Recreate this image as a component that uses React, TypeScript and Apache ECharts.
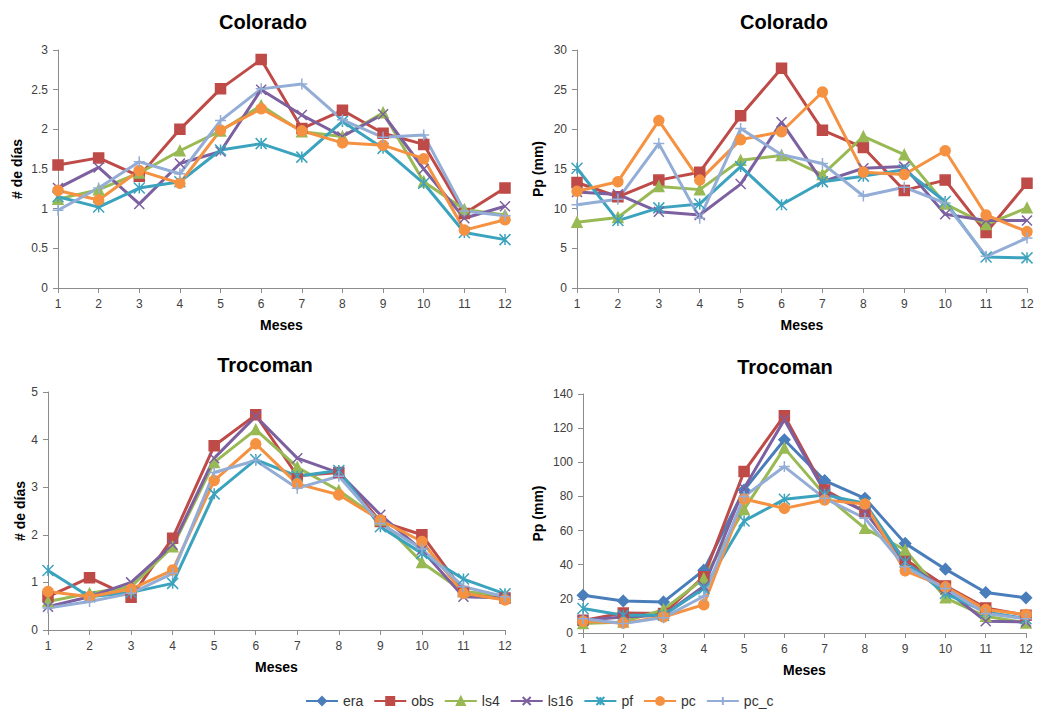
import React, { useEffect, useRef } from "react";
import * as echarts from "echarts";

const months = ["1", "2", "3", "4", "5", "6", "7", "8", "9", "10", "11", "12"];

// Colorado – # de días
const colDiasObs = [1.55, 1.64, 1.41, 2.0, 2.51, 2.88, 2.01, 2.24, 1.95, 1.81, 0.94, 1.26];
const colDiasLs4 = [1.12, 1.24, 1.45, 1.73, 1.98, 2.3, 1.97, 1.91, 2.21, 1.34, 0.99, 0.92];
const colDiasLs16 = [1.26, 1.52, 1.06, 1.57, 1.72, 2.5, 2.18, 1.91, 2.19, 1.5, 0.88, 1.03];
const colDiasPf = [1.15, 1.02, 1.26, 1.34, 1.74, 1.82, 1.65, 2.1, 1.76, 1.32, 0.7, 0.61];
const colDiasPc = [1.23, 1.11, 1.48, 1.32, 1.99, 2.26, 1.98, 1.83, 1.8, 1.63, 0.73, 0.86];
const colDiasPcC = [0.98, 1.26, 1.59, 1.44, 2.11, 2.51, 2.57, 2.12, 1.9, 1.93, 0.97, 0.91];

// Colorado – Pp (mm)
const colPpObs = [13.3, 11.5, 13.6, 14.6, 21.7, 27.7, 19.9, 17.7, 12.3, 13.6, 7.0, 13.2];
const colPpLs4 = [8.3, 8.9, 12.8, 12.4, 16.1, 16.7, 14.3, 19.1, 16.8, 10.6, 8.0, 10.1];
const colPpLs16 = [12.1, 11.8, 9.6, 9.2, 13.1, 20.9, 13.4, 15.1, 15.3, 9.3, 8.5, 8.5];
const colPpPf = [15.1, 8.5, 10.1, 10.6, 15.3, 10.5, 13.4, 14.1, 14.9, 10.9, 3.9, 3.8];
const colPpPc = [12.2, 13.4, 21.1, 13.6, 18.7, 19.7, 24.7, 14.6, 14.3, 17.3, 9.2, 7.1];
const colPpPcC = [10.5, 11.2, 18.2, 8.8, 20.1, 16.8, 15.7, 11.6, 12.7, 10.7, 4.0, 6.3];

// Trocoman – # de días
const troDiasObs = [0.7, 1.1, 0.69, 1.93, 3.87, 4.52, 3.24, 3.31, 2.28, 2.0, 0.81, 0.67];
const troDiasLs4 = [0.6, 0.77, 0.91, 1.75, 3.52, 4.21, 3.42, 2.93, 2.31, 1.42, 0.81, 0.72];
const troDiasLs16 = [0.49, 0.7, 1.0, 1.79, 3.61, 4.49, 3.61, 3.3, 2.42, 1.68, 0.7, 0.67];
const troDiasPf = [1.25, 0.7, 0.79, 0.98, 2.86, 3.58, 3.23, 3.35, 2.17, 1.61, 1.07, 0.76];
const troDiasPc = [0.81, 0.7, 0.86, 1.26, 3.14, 3.91, 3.07, 2.84, 2.31, 1.86, 0.77, 0.63];
const troDiasPcC = [0.46, 0.6, 0.77, 1.19, 3.31, 3.56, 2.98, 3.23, 2.24, 1.7, 0.91, 0.7];

// Trocoman – Pp (mm)
const troPpEra = [22.1, 18.8, 18.2, 36.8, 83.8, 113.2, 89.3, 78.9, 52.5, 37.4, 23.7, 20.6];
const troPpObs = [7.4, 11.7, 11.4, 33.0, 94.6, 127.3, 83.8, 71.1, 43.1, 27.6, 14.7, 10.4];
const troPpLs4 = [5.5, 6.5, 13.7, 31.9, 72.4, 108.3, 80.9, 61.3, 48.6, 20.6, 9.8, 5.9];
const troPpLs16 = [7.4, 9.4, 10.4, 27.4, 84.8, 124.9, 82.8, 71.1, 41.1, 25.5, 6.9, 6.5];
const troPpPf = [14.3, 10.4, 10.4, 26.0, 65.6, 78.3, 80.9, 76.0, 41.7, 23.1, 12.3, 8.4];
const troPpPc = [6.9, 5.9, 9.4, 16.6, 78.5, 73.0, 77.9, 75.6, 36.4, 27.0, 13.7, 10.8];
const troPpPcC = [8.4, 5.5, 9.0, 21.5, 80.0, 97.5, 78.9, 67.2, 38.8, 26.0, 11.4, 8.4];

const seriesNames = ["era", "obs", "ls4", "ls16", "pf", "pc", "pc_c"];
const panelTitles = ["Colorado", "Colorado", "Trocoman", "Trocoman"];
const yNames = ["# de días", "Pp (mm)", "# de días", "Pp (mm)"];
const xName = "Meses";
const yMax = [3, 30, 5, 140];
const yInterval = [0.5, 5, 1, 20];

const styles: Record<string, { color: string; symbol: string; size: number }> = {
  era: { color: "#4A7EBB", symbol: "diamond", size: 11 },
  obs: { color: "#BE4B48", symbol: "rect", size: 10 },
  ls4: { color: "#98B954", symbol: "triangle", size: 10 },
  ls16: { color: "#7D60A0", symbol: "path://M0,0L10,10M10,0L0,10", size: 10 },
  pf: { color: "#3BA3BE", symbol: "path://M0,0L10,10M10,0L0,10M5,0L5,10", size: 11 },
  pc: { color: "#F59242", symbol: "circle", size: 10 },
  pc_c: { color: "#93ADD6", symbol: "path://M5,0L5,10M0,5L10,5", size: 11 },
};

const panelData: Record<string, number[]>[] = [
  { obs: colDiasObs, ls4: colDiasLs4, ls16: colDiasLs16, pf: colDiasPf, pc: colDiasPc, pc_c: colDiasPcC },
  { obs: colPpObs, ls4: colPpLs4, ls16: colPpLs16, pf: colPpPf, pc: colPpPc, pc_c: colPpPcC },
  { obs: troDiasObs, ls4: troDiasLs4, ls16: troDiasLs16, pf: troDiasPf, pc: troDiasPc, pc_c: troDiasPcC },
  { era: troPpEra, obs: troPpObs, ls4: troPpLs4, ls16: troPpLs16, pf: troPpPf, pc: troPpPc, pc_c: troPpPcC },
];

const grids = [
  { left: 58, top: 50, width: 447, height: 238 },
  { left: 577, top: 50, width: 450, height: 238 },
  { left: 48, top: 392, width: 457, height: 238 },
  { left: 583, top: 394, width: 443, height: 239 },
];
const titlePos = [
  { x: 258, y: 7 },
  { x: 779, y: 7 },
  { x: 260, y: 350 },
  { x: 780, y: 352 },
];
const yNameGap = [34, 32, 16, 38];

const axisGray = "#8C8C8C";
const labelColor = "#404040";
const font = "'Liberation Sans', Arial, sans-serif";

export default function App() {
  const ref = useRef<HTMLDivElement>(null);
  useEffect(() => {
    if (!ref.current) return;
    const chart = echarts.init(ref.current, null, { renderer: "svg" });
    const series: any[] = [];
    panelData.forEach((pd, i) => {
      seriesNames.forEach((name) => {
        const d = pd[name];
        if (!d) return;
        const st = styles[name];
        series.push({
          type: "line",
          name,
          xAxisIndex: i,
          yAxisIndex: i,
          data: d,
          symbol: st.symbol,
          symbolSize: st.size,
          lineStyle: { width: 3, color: st.color },
          itemStyle: { color: st.color, borderColor: st.color, borderWidth: 1.5 },
          emphasis: { disabled: true },
        });
      });
    });
    chart.setOption({
      animation: false,
      backgroundColor: "#ffffff",
      title: panelTitles.map((t, i) => ({
        text: t,
        left: titlePos[i].x,
        top: titlePos[i].y,
        textAlign: "center",
        textStyle: { fontFamily: font, fontSize: 20, fontWeight: "bold", color: "#000" },
      })),
      grid: grids.map((g) => ({ ...g, containLabel: false })),
      legend: {
        data: seriesNames,
        left: 300,
        top: 689,
        itemWidth: 32,
        itemHeight: 10,
        itemGap: 10,
        textStyle: { fontFamily: font, fontSize: 14, color: "#333" },
      },
      xAxis: grids.map((_, i) => ({
        type: "category",
        gridIndex: i,
        data: months,
        boundaryGap: false,
        name: xName,
        nameLocation: "middle",
        nameGap: 30,
        nameTextStyle: { fontFamily: font, fontSize: 14, fontWeight: "bold", color: "#000" },
        axisLine: { lineStyle: { color: axisGray, width: 1 } },
        axisTick: { show: true, length: 5, lineStyle: { color: axisGray } },
        axisLabel: { margin: 10, fontFamily: font, fontSize: 12, color: labelColor },
        splitLine: { show: false },
      })),
      yAxis: grids.map((_, i) => ({
        type: "value",
        gridIndex: i,
        min: 0,
        max: yMax[i],
        interval: yInterval[i],
        name: yNames[i],
        nameLocation: "middle",
        nameGap: yNameGap[i],
        nameRotate: 90,
        nameTextStyle: { fontFamily: font, fontSize: 14, fontWeight: "bold", color: "#000" },
        axisLine: { show: true, lineStyle: { color: axisGray, width: 1 } },
        axisTick: { show: true, length: 5, lineStyle: { color: axisGray } },
        axisLabel: { margin: 10, fontFamily: font, fontSize: 12, color: labelColor },
        splitLine: { show: false },
      })),
      series,
    });
    return () => chart.dispose();
  }, []);
  return (
    <div
      ref={ref}
      style={{ position: "fixed", left: 0, top: 0, width: 1039, height: 710, background: "#fff" }}
    />
  );
}
